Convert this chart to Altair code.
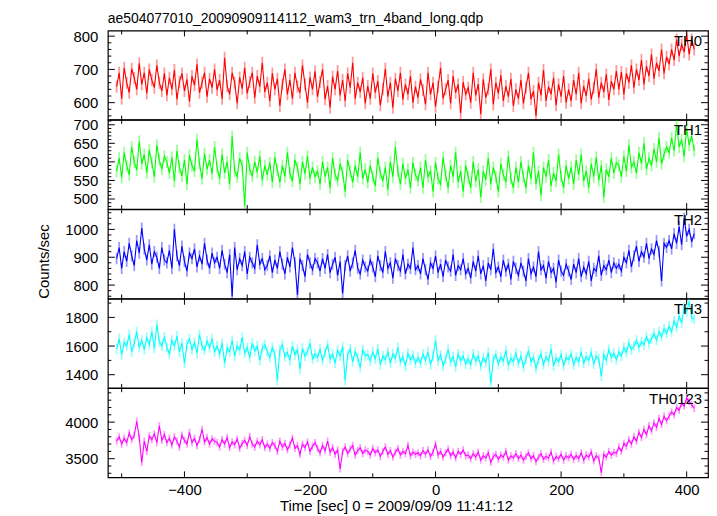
import altair as alt
import pandas as pd

TITLE = "ae504077010_20090909114112_wam3_trn_4band_long.qdp"
X_TITLE = "Time [sec] 0 = 2009/09/09 11:41:12"
Y_TITLE = "Counts/sec"
T0, DT = -508, 4

NAMES = ["TH0", "TH1", "TH2", "TH3", "TH0123"]
COLORS = ["#ff0000", "#00ff00", "#0000ff", "#00ffff", "#ff00ff"]
ERRORS = [18, 16, 20, 35, 50]
Y_DOMAINS = [[549, 817], [473, 713], [752, 1072], [1308, 1930], [3245, 4464]]
Y_MAJOR = [
    [600, 700, 800],
    [500, 550, 600, 650, 700],
    [800, 900, 1000],
    [1400, 1600, 1800],
    [3500, 4000],
]
Y_MINOR = [
    [560, 580, 620, 640, 660, 680, 720, 740, 760, 780],
    [480, 490, 510, 520, 530, 540, 560, 570, 580, 590, 610, 620, 630, 640, 660, 670, 680, 690, 710],
    [760, 780, 820, 840, 860, 880, 920, 940, 960, 980, 1020, 1040, 1060],
    [1500, 1700, 1900],
    [3300, 3400, 3600, 3700, 3800, 3900, 4100, 4200, 4300, 4400],
]
X_DOMAIN = [-522, 434]
X_MAJOR = [-400, -200, 0, 200, 400]
X_MINOR = [-500, -300, -100, 100, 300]

TH0 = [
    648, 690, 612, 705, 660, 630, 702, 675, 640, 718, 655, 690, 628, 700, 668, 645, 712, 660, 635, 688,
    622, 675, 640, 698, 610, 662, 688, 635, 670, 604, 680, 652, 715, 630, 660, 690, 618, 672, 645, 700,
    638, 668, 612, 735, 650, 625, 690, 660, 598, 676, 642, 705, 628, 662, 690, 615, 680, 648, 720, 632,
    660, 605, 688, 640, 672, 590, 655, 700, 625, 668, 612, 690, 648, 630, 712, 655, 600, 676, 640, 694,
    618, 662, 700, 610, 650, 585, 678, 640, 695, 622, 668, 605, 688, 645, 720, 612, 660, 632, 675, 598,
    650, 612, 688, 630, 665, 592, 640, 702, 618, 660, 585, 672, 635, 690, 610, 655, 625, 680, 600, 648,
    615, 670, 638, 595, 690, 625, 660, 588, 648, 705, 612, 640, 668, 598, 680, 630, 655, 568, 662, 625,
    645, 600, 690, 622, 656, 565, 670, 615, 640, 700, 595, 660, 628, 682, 605, 650, 618, 672, 590, 640,
    612, 668, 598, 645, 690, 610, 635, 560, 660, 622, 698, 605, 648, 625, 675, 592, 655, 618, 680, 600,
    640, 605, 668, 625, 690, 598, 650, 620, 672, 610, 645, 700, 615, 660, 632, 685, 608, 665, 640, 695,
    640, 692, 625, 688, 660, 712, 645, 700, 668, 728, 655, 710, 680, 745, 672, 720, 695, 760, 688, 738,
    715, 760, 728, 790, 740, 775, 752, 805, 745, 790, 760,
]
TH1 = [
    575, 610, 558, 625, 590, 565, 640, 600, 578, 655, 595, 620, 570, 632, 598, 560, 645, 605, 580, 615,
    600, 570, 612, 548, 630, 585, 562, 605, 540, 618, 590, 575, 660, 595, 555, 622, 580, 605, 568, 640,
    585, 555, 620, 570, 600, 540, 668, 575, 560, 610, 590, 482, 625, 580, 562, 600, 572, 615, 550, 590,
    565, 598, 545, 612, 578, 545, 590, 560, 625, 570, 548, 605, 585, 540, 600, 568, 615, 555, 585, 560,
    575, 540, 600, 560, 585, 530, 610, 565, 550, 595, 570, 520, 605, 575, 545, 590, 560, 625, 555, 580,
    545, 590, 560, 535, 610, 570, 548, 585, 525, 600, 560, 640, 575, 540, 595, 555, 580, 530, 598, 565,
    550, 585, 530, 605, 560, 575, 520, 598, 555, 540, 612, 565, 530, 590, 560, 625, 545, 575, 520, 590,
    560, 530, 600, 548, 580, 505, 575, 552, 610, 540, 585, 560, 520, 595, 565, 545, 615, 555, 530, 585,
    545, 600, 560, 530, 590, 555, 625, 540, 575, 510, 585, 560, 605, 535, 570, 548, 620, 560, 530, 590,
    555, 585, 540, 605, 565, 620, 548, 575, 530, 595, 560, 612, 550, 590, 505, 580, 560, 610, 570, 598,
    590, 560, 615, 575, 645, 585, 600, 570, 625, 595, 650, 580, 610, 590, 635, 600, 665, 595, 620, 640,
    625, 665, 630, 700, 640, 660, 615, 690, 645, 670, 630,
]
TH2 = [
    895, 935, 860, 920, 885, 950, 905, 870, 960, 915, 1005, 930, 890, 945, 875, 920, 900, 860, 935, 890,
    880, 925, 860, 1000, 905, 870, 940, 885, 850, 915, 895, 930, 865, 905, 875, 950, 890, 860, 915, 880,
    900, 860, 925, 875, 845, 910, 760, 935, 855, 895, 870, 920, 840, 900, 880, 860, 945, 875, 895, 855,
    870, 905, 845, 890, 860, 920, 875, 840, 900, 865, 935, 880, 765, 895, 870, 830, 910, 880, 855, 895,
    880, 850, 895, 860, 910, 845, 875, 900, 835, 885, 770, 870, 905, 850, 880, 925, 860, 840, 890, 865,
    850, 890, 865, 830, 905, 870, 845, 920, 860, 880, 825, 895, 870, 850, 910, 840, 875, 860, 935, 855,
    870, 840, 895, 855, 820, 880, 860, 905, 845, 875, 830, 890, 865, 850, 910, 835, 870, 855, 895, 840,
    860, 825, 885, 850, 905, 840, 870, 815, 880, 855, 930, 845, 865, 830, 890, 850, 875, 820, 885, 860,
    835, 880, 850, 815, 895, 840, 865, 830, 920, 855, 870, 825, 885, 845, 860, 810, 890, 850, 835, 875,
    850, 820, 875, 845, 895, 830, 865, 840, 885, 815, 860, 850, 905, 835, 870, 855, 890, 845, 880, 860,
    875, 850, 900, 880, 925, 865, 905, 940, 885, 920, 900, 950, 895, 930, 910, 960, 920, 815, 950, 935,
    960, 930, 985, 950, 1010, 945, 1040, 975, 1000, 955, 985,
]
TH3 = [
    1580, 1650, 1540, 1625, 1600, 1680, 1560, 1620, 1700, 1590, 1640, 1575, 1660, 1610, 1700, 1585, 1750, 1630, 1600, 1665,
    1590, 1545, 1640, 1600, 1670, 1560, 1620, 1480, 1610, 1650, 1575, 1625, 1550, 1680, 1600, 1570, 1635, 1590, 1650, 1560,
    1600, 1545, 1620, 1480, 1585, 1560, 1640, 1530, 1600, 1575, 1660, 1550, 1590, 1520, 1620, 1565, 1600, 1500, 1585, 1610,
    1560, 1520, 1590, 1540, 1360, 1570, 1610, 1525, 1555, 1500, 1600, 1540, 1575, 1440, 1585, 1530, 1560, 1620, 1510, 1545,
    1520, 1580, 1500, 1555, 1610, 1510, 1545, 1480, 1570, 1530, 1595, 1360, 1540, 1580, 1490, 1560, 1520, 1450, 1575, 1530,
    1540, 1495, 1560, 1510, 1580, 1470, 1530, 1505, 1560, 1480, 1545, 1515, 1590, 1490, 1525, 1460, 1550, 1505, 1535, 1480,
    1520, 1480, 1545, 1500, 1560, 1470, 1530, 1640, 1495, 1540, 1460, 1510, 1575, 1490, 1525, 1455, 1545, 1500, 1530, 1475,
    1510, 1470, 1545, 1495, 1530, 1460, 1520, 1485, 1555, 1340, 1505, 1540, 1475, 1525, 1495, 1570, 1465, 1515, 1490, 1550,
    1480, 1530, 1455, 1510, 1565, 1490, 1520, 1445, 1505, 1545, 1470, 1525, 1495, 1580, 1460, 1515, 1490, 1540, 1465, 1520,
    1505, 1545, 1470, 1520, 1490, 1560, 1480, 1525, 1500, 1555, 1475, 1530, 1510, 1390, 1540, 1500, 1575, 1520, 1550, 1505,
    1560, 1530, 1590, 1555, 1620, 1575, 1600, 1640, 1590, 1630, 1610, 1665, 1620, 1650, 1690, 1640, 1700, 1665, 1720, 1690,
    1740, 1700, 1775, 1730, 1810, 1760, 1870, 1840, 1910, 1800, 1790,
]
TH0123 = [
    3740, 3800, 3700, 3780, 3720, 3850, 3760, 3820, 4010, 3790, 3450, 3740, 3600, 3810, 3760, 3840, 3720, 3950, 3750, 3830,
    3720, 3780, 3690, 3800, 3740, 3660, 3820, 3750, 3700, 3860, 3720, 3780, 3680, 3760, 3900, 3730, 3790, 3700, 3770, 3740,
    3720, 3660, 3760, 3700, 3790, 3650, 3730, 3690, 3770, 3640, 3710, 3750, 3680, 3800, 3700, 3660, 3740, 3690, 3760, 3650,
    3700, 3640, 3720, 3680, 3600, 3740, 3660, 3710, 3620, 3690, 3780, 3640, 3680, 3560, 3700, 3650, 3730, 3600, 3670, 3720,
    3640, 3580, 3680, 3610, 3740, 3590, 3650, 3560, 3620, 3360, 3600, 3660, 3570, 3630, 3680, 3550, 3610, 3650, 3570, 3620,
    3600, 3550, 3640, 3580, 3620, 3530, 3600, 3660, 3560, 3610, 3520, 3590, 3640, 3550, 3600, 3570, 3680, 3540, 3590, 3560,
    3580, 3540, 3610, 3560, 3620, 3530, 3590, 3700, 3550, 3600, 3520, 3580, 3630, 3540, 3590, 3510, 3600, 3560, 3620, 3540,
    3550, 3500, 3570, 3520, 3590, 3480, 3540, 3510, 3580, 3450, 3530, 3560, 3490, 3550, 3520, 3600, 3480, 3540, 3510, 3570,
    3500, 3550, 3480, 3530, 3580, 3500, 3540, 3460, 3520, 3570, 3490, 3530, 3510, 3590, 3470, 3530, 3500, 3560, 3480, 3540,
    3510, 3560, 3490, 3540, 3500, 3580, 3480, 3550, 3520, 3590, 3470, 3540, 3510, 3310, 3560, 3520, 3600, 3550, 3590, 3570,
    3660, 3600, 3710, 3670, 3760, 3700, 3800, 3740, 3860, 3790, 3900, 3830, 3950, 3880, 3990, 3930, 4050, 3970, 4080, 4020,
    4080, 4140, 4100, 4200, 4160, 4260, 4220, 4330, 4280, 4240, 4190,
]
SERIES = [TH0, TH1, TH2, TH3, TH0123]

W, H = 604, 89.7
FONT = "Liberation Sans"
MAJ, MIN = 7, 3.5
XMAJ, XMIN = 6, 4


def panel(i):
    values = SERIES[i]
    df = pd.DataFrame({"t": [T0 + DT * k for k in range(len(values))], "v": values})
    df["lo"] = df["v"] - ERRORS[i]
    df["hi"] = df["v"] + ERRORS[i]
    xs = alt.Scale(domain=X_DOMAIN, nice=False, zero=False)
    ys = alt.Scale(domain=Y_DOMAINS[i], nice=False, zero=False)
    last = i == len(SERIES) - 1

    if last:
        xaxis = alt.Axis(values=X_MAJOR, ticks=False, tickSize=0, domain=False, grid=False,
                         labelPadding=5, titlePadding=1, format="d", titleX=290,
                         labelFont=FONT, labelFontSize=15, labelColor="black",
                         titleFont=FONT, titleFontSize=15, titleColor="black",
                         titleFontWeight="normal")
        xtitle = X_TITLE
    else:
        xaxis = None
        xtitle = None

    ykw = dict(values=Y_MAJOR[i], ticks=False, tickSize=0, domain=False, grid=False,
               labelPadding=10, format="d", labelFont=FONT, labelFontSize=15,
               labelColor="black", titleFont=FONT, titleFontSize=15, titleColor="black",
               titleFontWeight="normal")
    if i == 2:
        yaxis = alt.Axis(titleX=-57, titleY=52, titleBaseline="bottom", **ykw)
        ytitle = Y_TITLE
    else:
        yaxis = alt.Axis(**ykw)
        ytitle = None

    def X(field):
        return alt.X(field, scale=xs, axis=xaxis, title=xtitle)

    def Y(field):
        return alt.Y(field, scale=ys, axis=yaxis, title=ytitle)

    base = alt.Chart(df)
    err = base.mark_rule(color=COLORS[i], opacity=0.4, strokeWidth=1.8, clip=True).encode(
        x=X("t:Q"), y=Y("lo:Q"), y2="hi:Q",
    )
    line = base.mark_line(color=COLORS[i], strokeWidth=1.1, clip=True).encode(x=X("t:Q"), y=Y("v:Q"))

    layers = [err, line]

    def yticks(vals, length):
        d = alt.Chart(pd.DataFrame({"v": vals}))
        left = d.mark_rule(color="black", strokeWidth=1, clip=True).encode(
            y=Y("v:Q"), x=alt.value(0), x2=alt.value(length))
        right = d.mark_rule(color="black", strokeWidth=1, clip=True).encode(
            y=Y("v:Q"), x=alt.value(W), x2=alt.value(W - length))
        return [left, right]

    def xticks(vals, length):
        d = alt.Chart(pd.DataFrame({"t": vals}))
        top = d.mark_rule(color="black", strokeWidth=1).encode(
            x=X("t:Q"), y=alt.value(0), y2=alt.value(length))
        bot = d.mark_rule(color="black", strokeWidth=1).encode(
            x=X("t:Q"), y=alt.value(H), y2=alt.value(H - length))
        return [top, bot]

    layers += yticks(Y_MAJOR[i], MAJ) + yticks(Y_MINOR[i], MIN)
    layers += xticks(X_MAJOR, XMAJ) + xticks(X_MINOR, XMIN)

    label = alt.Chart(pd.DataFrame({"name": [NAMES[i]]})).mark_text(
        align="right", baseline="alphabetic", fontSize=15, font=FONT, color="black"
    ).encode(x=alt.value(W - 6), y=alt.value(15.5), text="name:N")
    layers.append(label)

    ch = alt.layer(*layers).properties(width=W, height=H)
    if i == 0:
        ch = ch.properties(title=alt.TitleParams(
            TITLE, anchor="start", frame="group", fontSize=14, font=FONT,
            fontWeight="normal", color="black", offset=3))
    return ch


chart = alt.vconcat(*[panel(i) for i in range(len(SERIES))], spacing=0, bounds="flush").properties(
    padding={"left": 27.5, "top": 2, "right": 0, "bottom": 0}
).configure(
    background="white"
).configure_view(
    stroke="black", strokeWidth=1.2
)

chart.save("out.html", embed_options={"renderer": "svg", "actions": False})
